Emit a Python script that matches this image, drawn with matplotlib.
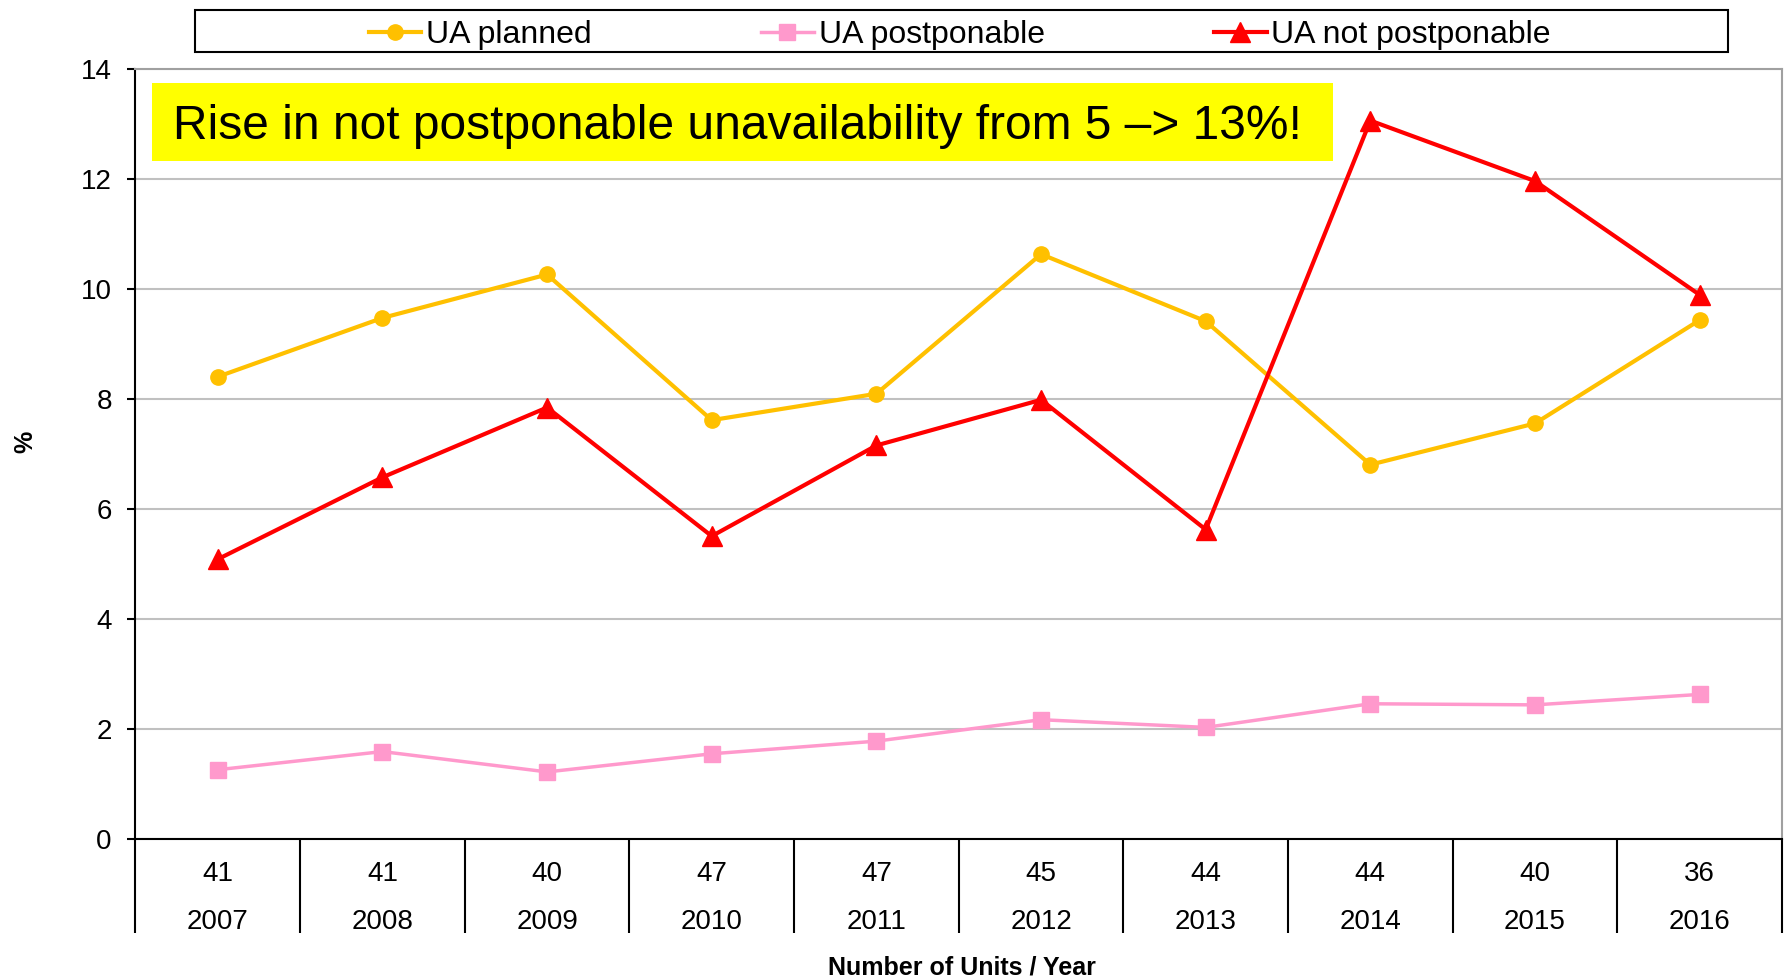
import numpy as np
import matplotlib
matplotlib.use("Agg")
from matplotlib import pyplot as plt
from matplotlib import transforms
from matplotlib.patches import Rectangle

plt.rcParams["font.family"] = ["Liberation Sans", "DejaVu Sans"]

years = ["2007", "2008", "2009", "2010", "2011", "2012", "2013", "2014", "2015", "2016"]
units = ["41", "41", "40", "47", "47", "45", "44", "44", "40", "36"]
ua_planned = [8.41, 9.48, 10.27, 7.62, 8.10, 10.64, 9.42, 6.81, 7.56, 9.44]
ua_postponable = [1.26, 1.59, 1.22, 1.55, 1.78, 2.17, 2.03, 2.46, 2.44, 2.63]
ua_not_postponable = [5.09, 6.58, 7.85, 5.51, 7.16, 7.99, 5.63, 13.07, 11.97, 9.90]
note = "Rise in not postponable unavailability from 5 \u2013> 13%!"

fig = plt.figure(figsize=(17.85, 9.8), dpi=100)
ax = fig.add_axes([0.0759, 0.1439, 0.9224, 0.7852])

x = np.arange(len(years))
ax.plot(x, ua_planned, color="#FFC000", lw=3.0, marker="o", ms=11, label="UA planned", zorder=3)
ax.plot(x, ua_postponable, color="#FF99CC", lw=2.5, marker="s", ms=12, label="UA postponable", zorder=3)
ax.plot(x, ua_not_postponable, color="#FF0000", lw=3.0, marker="^", ms=15, label="UA not postponable", zorder=4)

ax.set_xlim(-0.5, len(years) - 0.5)
ax.set_ylim(0, 14)
ax.set_yticks(np.arange(0, 15, 2))
ax.yaxis.grid(True, color="#C0C0C0", lw=1.5)
ax.set_axisbelow(True)
ax.tick_params(axis="y", direction="out", length=6, width=1.5, pad=11, labelsize=20)

# category separators run down through the label rows
ax.set_xticks(np.arange(-0.5, len(years), 1.0))
ax.set_xticklabels([])
ax.tick_params(axis="x", direction="out", length=68, width=1.5)

for side in ["left", "bottom"]:
    ax.spines[side].set_color("black")
    ax.spines[side].set_linewidth(1.5)
for side in ["top", "right"]:
    ax.spines[side].set_color("#A0A0A0")
    ax.spines[side].set_linewidth(1.5)

trans = transforms.blended_transform_factory(ax.transData, ax.transAxes)
for i in range(len(years)):
    ax.text(x[i], -0.046, units[i], transform=trans, ha="center", va="center", fontsize=20)
    ax.text(x[i], -0.108, years[i], transform=trans, ha="center", va="center", fontsize=20)

fig.text(0.539, 0.0125, "Number of Units / Year", ha="center", va="center", fontsize=18, fontweight="bold")
fig.text(0.014, 0.549, "%", ha="center", va="center", rotation=90, fontsize=18, fontweight="bold")

# highlighted note
ax.add_patch(Rectangle((0.0103, 0.8817), 0.717, 0.1008, transform=ax.transAxes,
                       facecolor="#FFFF00", edgecolor="none", zorder=5))
ax.text(0.0228, 0.926, note, transform=ax.transAxes, ha="left", va="center",
        fontsize=34.5, zorder=6)

# legend box spans most of the width above the plot
fig.patches.append(Rectangle((195 / 1785, 1 - 52 / 980), (1728 - 195) / 1785, 42 / 980,
                             transform=fig.transFigure, facecolor="white",
                             edgecolor="black", lw=1.5))
leg = fig.legend(loc="center", bbox_to_anchor=(0.5377, 0.9645), ncol=3, fontsize=23,
                 frameon=False, handlelength=1.65, handletextpad=0.15,
                 columnspacing=5.3, borderpad=0.2)

fig.savefig("out.png", dpi=100)
